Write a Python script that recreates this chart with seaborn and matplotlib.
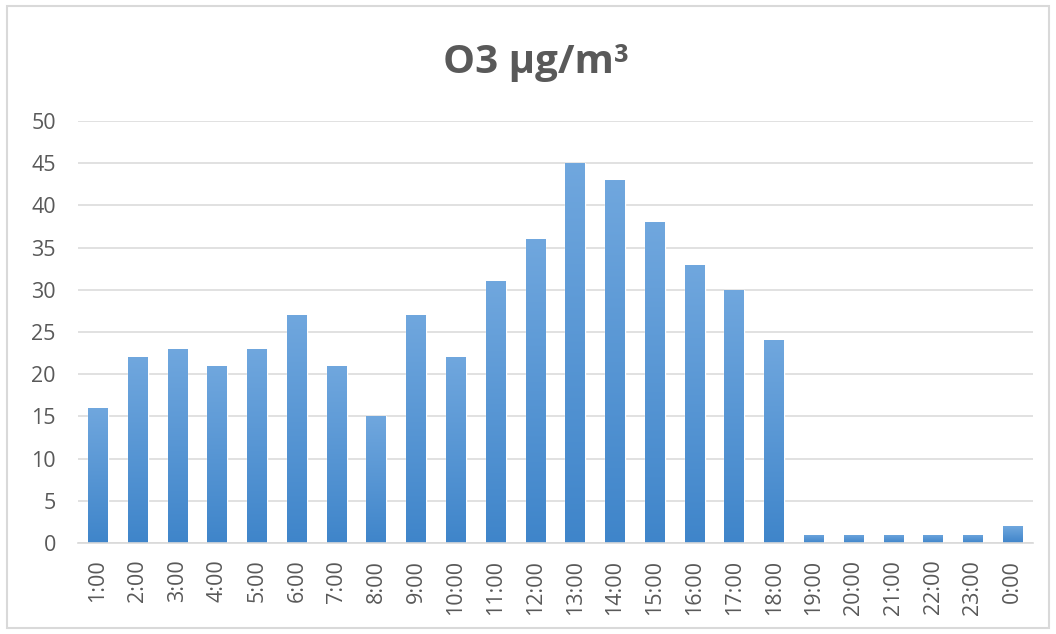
import matplotlib
matplotlib.use("Agg")
import matplotlib.pyplot as plt
import seaborn as sns
import pandas as pd
import numpy as np
from matplotlib.colors import LinearSegmentedColormap
from matplotlib.patches import Rectangle

# -------------------------
# data
# -------------------------
hours = ["1:00", "2:00", "3:00", "4:00", "5:00", "6:00", "7:00", "8:00",
         "9:00", "10:00", "11:00", "12:00", "13:00", "14:00", "15:00", "16:00",
         "17:00", "18:00", "19:00", "20:00", "21:00", "22:00", "23:00", "0:00"]
o3 = [16, 22, 23, 21, 23, 27, 21, 15, 27, 22, 31, 36, 45, 43, 38, 33,
      30, 24, 1, 1, 1, 1, 1, 2]
y_ticks = [0, 5, 10, 15, 20, 25, 30, 35, 40, 45, 50]
title = "O3 µg/m³"

df = pd.DataFrame({"hour": hours, "o3": o3})

sns.set_style("white")
plt.rcParams["font.family"] = ["Open Sans", "DejaVu Sans"]

text_gray = "#595959"
grid_gray = "#d9d9d9"
bar_top = "#70a7de"
bar_bottom = "#3f85ca"

fig = plt.figure(figsize=(10.56, 6.34), dpi=100)
ax = fig.add_axes([0.0739, 0.1435, 0.904, 0.6656])

sns.barplot(x="hour", y="o3", data=df, color=bar_bottom, width=0.5,
            saturation=1, ax=ax, zorder=3)

# vertical gradient on each bar (Excel style)
grad = np.linspace(0, 1, 256).reshape(-1, 1)
cmap = LinearSegmentedColormap.from_list("bar", [bar_bottom, bar_top])
for p in ax.patches:
    x0, w, h = p.get_x(), p.get_width(), p.get_height()
    im = ax.imshow(grad, cmap=cmap, origin="lower", aspect="auto",
                   extent=(x0, x0 + w, 0, max(h, 0.01)), zorder=4)
    im.set_clip_path(p)

ax.set_xlim(-0.5, len(hours) - 0.5)
ax.set_ylim(0, 50)
ax.set_yticks(y_ticks)
ax.set_xlabel("")
ax.set_ylabel("")

ax.yaxis.grid(True, color=grid_gray, linewidth=1.1, zorder=0)
ax.set_axisbelow(True)
for s in ["top", "right", "left"]:
    ax.spines[s].set_visible(False)
ax.spines["bottom"].set_color(grid_gray)
ax.spines["bottom"].set_linewidth(1.2)
ax.spines["bottom"].set_zorder(5)

ax.tick_params(axis="y", length=0, pad=16, labelsize=15.5, labelcolor=text_gray)
ax.tick_params(axis="x", length=0, pad=12, labelsize=15.5, labelcolor=text_gray,
               labelrotation=90)

fig.text(0.508, 0.885, title, ha="center", va="baseline", fontsize=29,
         fontweight="bold", color=text_gray)

# chart border
fig.patches.append(Rectangle((7 / 1056, 6 / 634), 1042 / 1056, 622 / 634,
                             transform=fig.transFigure, fill=False,
                             edgecolor=grid_gray, linewidth=1.5))

fig.savefig("out.png", dpi=100)
